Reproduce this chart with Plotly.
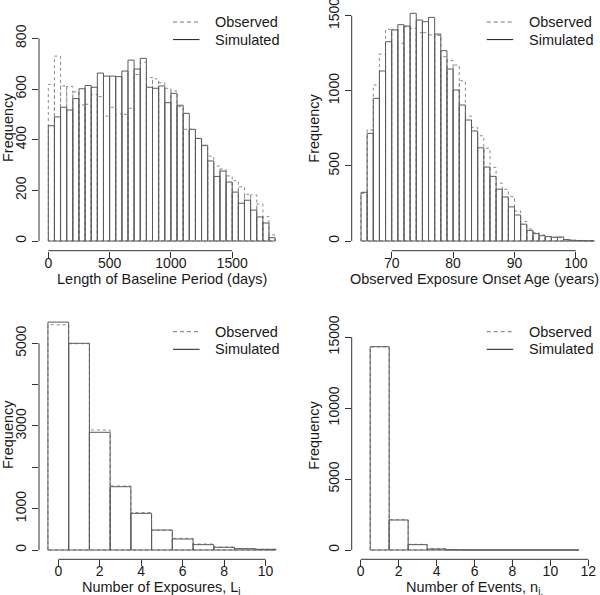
import plotly.graph_objects as go

# ---------------- data ----------------
# Panel 1: Length of Baseline Period (days), bins of 50 days
baseline_edges = list(range(0, 1851, 50))
baseline_sim = [455, 490, 528, 517, 562, 601, 614, 607, 663, 651, 651, 649, 671, 714, 679, 721,
                607, 603, 612, 546, 583, 536, 504, 441, 405, 378, 316, 255, 276, 233, 193, 149,
                161, 122, 95, 71, 13]
baseline_obs = [618, 730, 612, 610, 589, 537, 540, 579, 570, 493, 528, 502, 500, 524, 657, 706,
                645, 640, 625, 603, 592, 530, 441, 441, 405, 376, 335, 296, 284, 257, 238, 214,
                184, 182, 146, 97, 24]

# Panel 2: Observed Exposure Onset Age (years), bins of 1 year
age_edges = list(range(65, 104, 1))
age_sim = [324, 716, 949, 1131, 1326, 1404, 1439, 1430, 1515, 1470, 1459, 1488, 1377, 1266, 1144,
           1005, 905, 805, 732, 620, 492, 430, 345, 293, 227, 173, 112, 71, 49, 35, 29, 25, 27,
           9, 5, 3, 2, 1]
age_obs = [317, 739, 1038, 1244, 1408, 1408, 1315, 1425, 1415, 1386, 1386, 1371, 1368, 1226, 1200,
           1171, 1065, 831, 756, 700, 617, 490, 385, 344, 295, 200, 130, 80, 55, 40, 30, 25, 22,
           10, 6, 4, 3, 2]

# Panel 3: Number of Exposures L_i
exp_edges = [-0.5, 0.5, 1.5, 2.5, 3.5, 4.5, 5.5, 6.5, 7.5, 8.5, 9.5, 10.5]
exp_sim = [5513, 5000, 2847, 1531, 887, 484, 266, 129, 65, 32, 16]
exp_obs = [5448, 4990, 2903, 1547, 903, 475, 282, 145, 70, 30, 18]

# Panel 4: Number of Events n_i.
evt_edges = [0.5, 1.5, 2.5, 3.5, 4.5, 5.5, 6.5, 7.5, 8.5, 9.5, 10.5, 11.5]
evt_sim = [14317, 2113, 376, 70, 15, 4, 1, 0, 0, 0, 1]
evt_obs = [14300, 2130, 400, 94, 20, 5, 2, 1, 0, 0, 0]

# tick values
p1_xticks = [0, 500, 1000, 1500]
p1_yticks = [0, 200, 400, 600, 800]
p2_xticks = [70, 80, 90, 100]
p2_yticks = [0, 500, 1000, 1500]
p3_xticks = [0, 2, 4, 6, 8, 10]
p3_yticks = [0, 1000, 3000, 5000]
p3_yminor = [2000, 4000]
p4_xticks = [0, 2, 4, 6, 8, 10, 12]
p4_yticks = [0, 5000, 10000, 15000]

xtitles = ["Length of Baseline Period (days)", "Observed Exposure Onset Age (years)",
           "Number of Exposures, L<sub>i</sub>", "Number of Events, n<sub>i.</sub>"]
legend_names = ["Observed", "Simulated"]

# ---------------- layout helpers ----------------
W, H = 600, 595
FONT = "Liberation Sans, Arial, Helvetica, sans-serif"
SIM_COL = "#5a5a5a"
OBS_COL = "#8a8a8a"
AX_COL = "#333333"
TXT = "#1a1a1a"


def outline(edges, counts):
    xs, ys = [], []
    for l, r, c in zip(edges[:-1], edges[1:], counts):
        xs += [l, l, r, r]
        ys += [0, c, c, 0]
    xs.append(edges[0])
    ys.append(0)
    return xs, ys


def rng(p_lo, p_hi, v_ref, p_ref, scale):
    return [v_ref + (p_lo - p_ref) / scale, v_ref + (p_hi - p_ref) / scale]


panels = [
    dict(px=(39, 284.5), py=(0, 250.7), xmap=(0, 48.3, 0.1226), ymap=(0, 241, 0.2533),
         edges=baseline_edges, sim=baseline_sim, obs=baseline_obs,
         xt=p1_xticks, yt=p1_yticks, ym=[]),
    dict(px=(351.7, 597.5), py=(0, 250.7), xmap=(70, 391.7, 6.14), ymap=(0, 241, 0.1503),
         edges=age_edges, sim=age_sim, obs=age_obs,
         xt=p2_xticks, yt=p2_yticks, ym=[]),
    dict(px=(39, 284.5), py=(300, 559.3), xmap=(0, 58.3, 20.73), ymap=(0, 550, 0.04134),
         edges=exp_edges, sim=exp_sim, obs=exp_obs,
         xt=p3_xticks, yt=p3_yticks, ym=p3_yminor),
    dict(px=(351.7, 597.5), py=(300, 559.3), xmap=(0, 360.7, 18.97), ymap=(0, 550, 0.0142),
         edges=evt_edges, sim=evt_sim, obs=evt_obs,
         xt=p4_xticks, yt=p4_yticks, ym=[]),
]

fig = go.Figure()
layout = dict(
    width=W, height=H, margin=dict(l=0, r=0, t=0, b=0, autoexpand=False),
    paper_bgcolor="white", plot_bgcolor="white",
    font=dict(family=FONT, size=14, color=TXT),
    shapes=[], annotations=[], showlegend=False,
)

for i, p in enumerate(panels):
    k = "" if i == 0 else str(i + 1)
    xa, ya = "x" + k, "y" + k
    xs, ys = outline(p["edges"], p["obs"])
    fig.add_trace(go.Scatter(x=xs, y=ys, mode="lines", name="Observed",
                             line=dict(color=OBS_COL, width=1, dash="3px,3px"),
                             xaxis=xa, yaxis=ya, hoverinfo="skip"))
    xs, ys = outline(p["edges"], p["sim"])
    fig.add_trace(go.Scatter(x=xs, y=ys, mode="lines", name="Simulated",
                             line=dict(color=SIM_COL, width=1),
                             xaxis=xa, yaxis=ya, hoverinfo="skip"))

    vx, pxr, sx = p["xmap"]
    vy, pyr, sy = p["ymap"]
    xr = rng(p["px"][0], p["px"][1], vx, pxr, sx)
    yr = rng(-p["py"][1], -p["py"][0], vy, -pyr, sy)

    layout["xaxis" + k] = dict(
        domain=[p["px"][0] / W, p["px"][1] / W], range=xr, anchor=ya,
        showgrid=False, zeroline=False, showline=False, automargin=False,
        ticks="outside", ticklen=6, tickwidth=1, tickcolor=AX_COL, ticklabelstandoff=-7,
        tickvals=p["xt"], ticktext=[str(v) for v in p["xt"]], ticklabeloverflow="allow",
        tickfont=dict(size=14, family=FONT, color=TXT),
    )
    yax = dict(
        domain=[1 - p["py"][1] / H, 1 - p["py"][0] / H], range=yr, anchor=xa,
        showgrid=False, zeroline=False, showline=False, automargin=False,
        ticks="outside", ticklen=6, tickwidth=1, tickcolor=AX_COL,
        tickvals=p["yt"], ticktext=[str(v) for v in p["yt"]], tickangle=-90,
        ticklabeloverflow="allow",
        tickfont=dict(size=14, family=FONT, color=TXT),
    )
    if p["ym"]:
        yax["minor"] = dict(tickmode="array", tickvals=p["ym"], ticks="outside",
                            ticklen=6, tickwidth=1, tickcolor=AX_COL, showgrid=False)
    layout["yaxis" + k] = yax
    # R-style axis lines spanning only the tick range
    yall = sorted(p["yt"] + p["ym"])
    layout["shapes"].append(dict(type="line", xref=xa, yref=ya + " domain",
                                 x0=p["xt"][0], x1=p["xt"][-1], y0=0, y1=0,
                                 line=dict(color=AX_COL, width=1)))
    layout["shapes"].append(dict(type="line", xref=xa + " domain", yref=ya,
                                 x0=0, x1=0, y0=yall[0], y1=yall[-1],
                                 line=dict(color=AX_COL, width=1)))
    # axis titles
    cx = (p["px"][0] + p["px"][1]) / 2
    ty = p["py"][1] + 28.5
    layout["annotations"].append(dict(text=xtitles[i], xref="paper", yref="paper",
                                      x=cx / W, y=1 - ty / H, xanchor="center", yanchor="middle",
                                      showarrow=False, font=dict(size=14.5, family=FONT, color=TXT)))
    fy = 128 if i < 2 else 435
    fx = p["px"][0] - (31 if i % 2 == 0 else 38)
    layout["annotations"].append(dict(text="Frequency", xref="paper", yref="paper",
                                      x=fx / W, y=1 - fy / H,
                                      xanchor="center", yanchor="middle", textangle=-90,
                                      showarrow=False, font=dict(size=14.5, family=FONT, color=TXT)))
    # legend (R-style, no box)
    lx0 = 173 if i % 2 == 0 else 486.7
    ly0 = 22 if i < 2 else 331.7
    for j, name in enumerate(legend_names):
        yy = 1 - (ly0 + j * 17.6) / H
        layout["shapes"].append(dict(
            type="line", xref="paper", yref="paper",
            x0=lx0 / W, x1=(lx0 + 26.5) / W, y0=yy, y1=yy,
            line=dict(color="#777777" if j == 0 else "#1a1a1a", width=1,
                      dash="4px,3px" if j == 0 else "solid")))
        layout["annotations"].append(dict(
            text=name, xref="paper", yref="paper", x=(lx0 + 40) / W, y=yy,
            xanchor="left", yanchor="middle", showarrow=False,
            font=dict(size=14.5, family=FONT, color=TXT)))

fig.update_layout(**layout)
fig.write_html("out.html", config={"displayModeBar": False},
               post_script="document.body.style.margin='0px';document.body.style.overflow='hidden';")
